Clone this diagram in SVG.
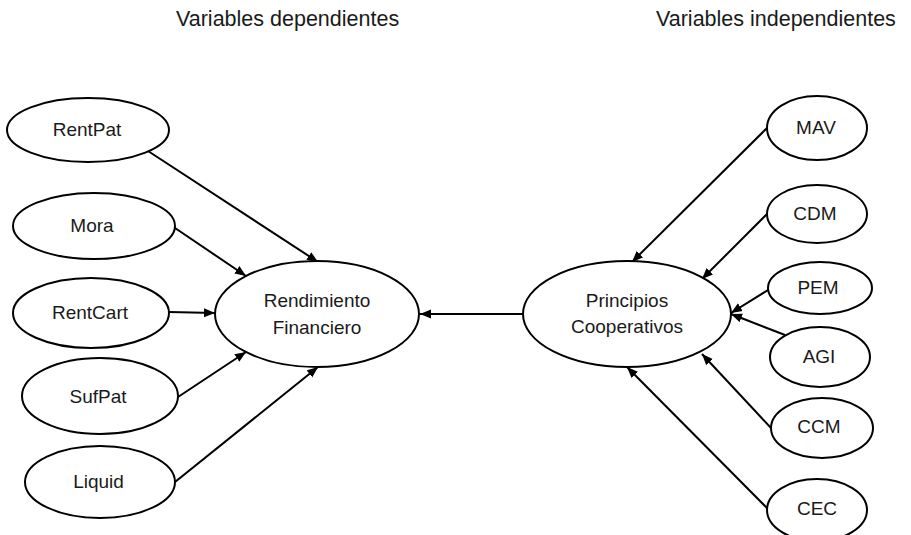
<svg xmlns="http://www.w3.org/2000/svg" width="911" height="535" viewBox="0 0 911 535">
<style>
.node ellipse{fill:#fff;stroke:#000;stroke-width:2}
.node text{font-family:"Liberation Sans",Arial,sans-serif;font-size:19px;fill:#1a1a1a;text-anchor:middle}
.title{font-family:"Liberation Sans",Arial,sans-serif;font-size:21.5px;fill:#1a1a1a}
#connectors line{stroke:#000;stroke-width:2;marker-end:url(#arr)}
</style>
<defs>
<marker id="arr" markerUnits="userSpaceOnUse" markerWidth="12" markerHeight="10" refX="11" refY="5" orient="auto">
<path d="M0,0.5 L11,5 L0,9.5 z" fill="#000"/>
</marker>
</defs>
<rect width="911" height="535" fill="#fff"/>
<text class="title" x="176" y="26">Variables dependientes</text>
<text class="title" x="656" y="26">Variables independientes</text>
<g id="connectors">
<line x1="148" y1="151" x2="318" y2="262"/>
<line x1="175" y1="228" x2="246" y2="276"/>
<line x1="169" y1="312" x2="215" y2="313"/>
<line x1="178" y1="397" x2="246" y2="352"/>
<line x1="175" y1="482" x2="318" y2="367"/>
<line x1="523" y1="314" x2="420" y2="314"/>
<line x1="767" y1="128" x2="632" y2="262"/>
<line x1="767" y1="214" x2="702" y2="279"/>
<line x1="768" y1="290" x2="731" y2="313"/>
<line x1="785" y1="335" x2="731" y2="314"/>
<line x1="771" y1="428" x2="702" y2="354"/>
<line x1="767" y1="508" x2="627" y2="367"/>
</g>
<g id="RentPat" class="node"><ellipse cx="88" cy="130" rx="81" ry="32"/><text x="87" y="136">RentPat</text></g>
<g id="Mora" class="node"><ellipse cx="94" cy="226" rx="81" ry="33"/><text x="92" y="232">Mora</text></g>
<g id="RentCart" class="node"><ellipse cx="91" cy="313" rx="78" ry="35"/><text x="90" y="319">RentCart</text></g>
<g id="SufPat" class="node"><ellipse cx="100" cy="396" rx="78" ry="38"/><text x="98" y="403">SufPat</text></g>
<g id="Liquid" class="node"><ellipse cx="100" cy="482" rx="75" ry="36"/><text x="98.5" y="488">Liquid</text></g>
<g id="Rendimiento" class="node"><ellipse cx="317" cy="314" rx="102" ry="53"/><text x="317" y="307">Rendimiento</text><text x="317" y="334">Financiero</text></g>
<g id="Principios" class="node"><ellipse cx="627" cy="314" rx="104" ry="53"/><text x="627" y="307">Principios</text><text x="627" y="333">Cooperativos</text></g>
<g id="MAV" class="node"><ellipse cx="817" cy="128" rx="50" ry="32"/><text x="816" y="134">MAV</text></g>
<g id="CDM" class="node"><ellipse cx="817" cy="214" rx="50" ry="29"/><text x="815" y="220">CDM</text></g>
<g id="PEM" class="node"><ellipse cx="820" cy="288" rx="52" ry="26"/><text x="818" y="294">PEM</text></g>
<g id="AGI" class="node"><ellipse cx="820" cy="357" rx="50" ry="30"/><text x="819" y="363">AGI</text></g>
<g id="CCM" class="node"><ellipse cx="822" cy="428" rx="51" ry="30"/><text x="819" y="433">CCM</text></g>
<g id="CEC" class="node"><ellipse cx="817" cy="510" rx="50" ry="31"/><text x="817" y="515">CEC</text></g>
</svg>
